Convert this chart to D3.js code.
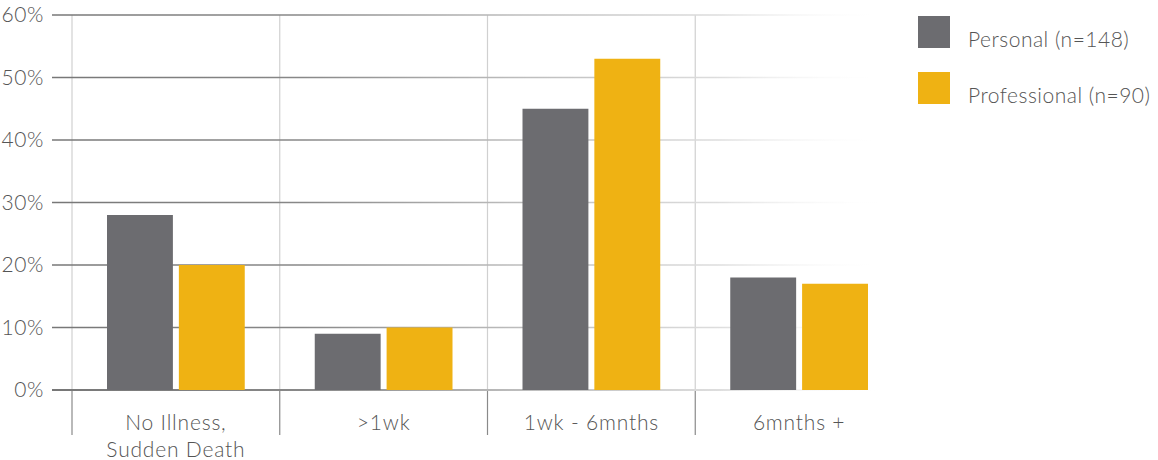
<!DOCTYPE html>
<html>
<head>
<meta charset="utf-8">
<script src="https://cdn.jsdelivr.net/npm/d3@7"></script>
<style>
  html, body { margin: 0; padding: 0; background: #fff; }
  svg text { font-family: "Lato", "Open Sans", sans-serif; font-weight: 300; fill: #555; }
</style>
</head>
<body>
<svg id="chart" width="1158" height="460"></svg>
<script>
// Time from onset to death, share of respondents by group
const categories = [["No Illness,", "Sudden Death"], [">1wk"], ["1wk - 6mnths"], ["6mnths +"]];
const seriesNames = ["Personal (n=148)", "Professional (n=90)"];
const personal = [28, 9, 45, 18];
const professional = [20, 10, 53, 17];
const yTicks = [0, 10, 20, 30, 40, 50, 60];
const colors = ["#6c6c70", "#efb213"];

const svg = d3.select("#chart");
const plotLeft = 72, plotRight = 903, plotTop = 15, plotBottom = 390;

const catKeys = categories.map(c => c.join(" "));
const x0 = d3.scaleBand().domain(catKeys).range([plotLeft, plotRight]);
const x1 = d3.scaleBand().domain(seriesNames)
  .range([35, x0.bandwidth() - 35]).paddingInner(0.083);
const y = d3.scaleLinear().domain([0, 60]).range([plotBottom, plotTop]);

// fading gradient for horizontal gridlines
const defs = svg.append("defs");
const grad = defs.append("linearGradient").attr("id", "gridFade")
  .attr("gradientUnits", "userSpaceOnUse")
  .attr("x1", 52).attr("x2", 885).attr("y1", 0).attr("y2", 0);
[[0, "#777", 1], [0.3, "#888", 1], [0.55, "#bbb", 1], [0.8, "#ddd", 1], [1, "#fff", 0]]
  .forEach(([o, c, a]) => grad.append("stop").attr("offset", o).attr("stop-color", c).attr("stop-opacity", a));

// vertical separators: light inside the plot, darker under the baseline
const seps = catKeys.map(k => x0(k));
svg.append("g").selectAll("line").data(seps).join("line")
  .attr("x1", d => d).attr("x2", d => d)
  .attr("y1", plotTop).attr("y2", plotBottom)
  .attr("stroke", "#d0d0d0").attr("stroke-width", 1.2);
svg.append("g").selectAll("line").data(seps).join("line")
  .attr("x1", d => d).attr("x2", d => d)
  .attr("y1", plotBottom).attr("y2", 435)
  .attr("stroke", "#8a8a8a").attr("stroke-width", 1.2);

// horizontal gridlines
svg.append("g").selectAll("line").data(yTicks).join("line")
  .attr("x1", 52).attr("x2", 885)
  .attr("y1", d => y(d)).attr("y2", d => y(d))
  .attr("stroke", "url(#gridFade)")
  .attr("stroke-width", d => d === 0 ? 2 : 1.3);

// y-axis tick labels
const yAxis = d3.axisLeft(y).tickValues(yTicks).tickFormat(d => d + "%").tickSize(0).tickPadding(0);
const ya = svg.append("g").attr("transform", "translate(44,0)").call(yAxis);
ya.select(".domain").remove();
ya.selectAll("text").attr("font-size", 21).attr("fill", "#555")
  .style("font-family", "Lato, sans-serif").style("font-weight", 300)
  .style("letter-spacing", "0.6px");

// bars
const rows = catKeys.map((k, i) => ({ key: k, values: [personal[i], professional[i]] }));
const groups = svg.append("g").selectAll("g").data(rows).join("g")
  .attr("transform", d => `translate(${x0(d.key)},0)`);
groups.selectAll("rect").data(d => d.values.map((v, j) => ({ name: seriesNames[j], v, j })))
  .join("rect")
  .attr("x", d => x1(d.name))
  .attr("width", x1.bandwidth())
  .attr("y", d => y(d.v))
  .attr("height", d => y(0) - y(d.v))
  .attr("fill", d => colors[d.j]);

// category labels
const xl = svg.append("g");
categories.forEach((lines, i) => {
  const cx = x0(catKeys[i]) + x0.bandwidth() / 2;
  const t = xl.append("text")
    .attr("x", cx)
    .attr("y", 430)
    .attr("text-anchor", "middle")
    .attr("font-size", 21)
    .style("letter-spacing", "0.8px");
  lines.forEach((ln, k) => t.append("tspan")
    .attr("x", cx)
    .attr("dy", k === 0 ? 0 : 27).text(ln));
});

// legend
const lg = svg.append("g").attr("transform", "translate(918,16)");
seriesNames.forEach((n, i) => {
  lg.append("rect").attr("x", 0).attr("y", i * 56).attr("width", 32).attr("height", 32).attr("fill", colors[i]);
  lg.append("text").attr("x", 50).attr("y", i * 56 + 31).attr("font-size", 21)
    .style("letter-spacing", "0.5px").text(n);
});
</script>
</body>
</html>
